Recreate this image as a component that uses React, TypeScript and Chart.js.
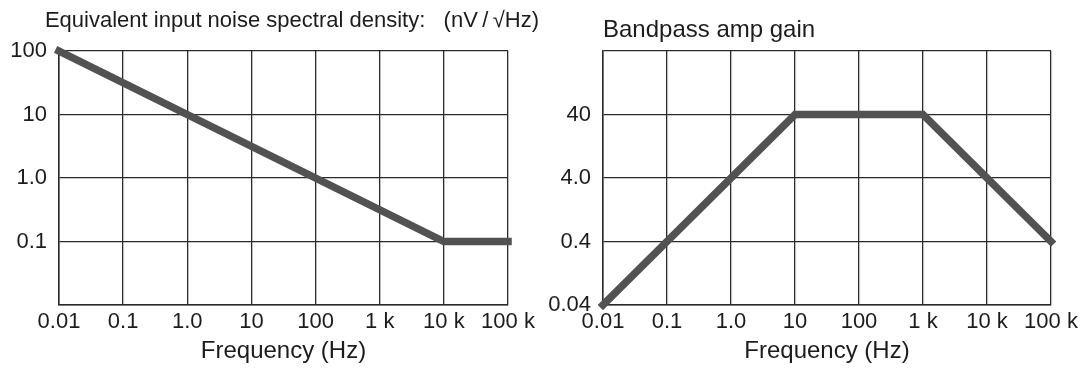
import React, { useEffect, useRef } from 'react';
import { Chart, registerables } from 'chart.js';

Chart.register(...registerables);

// ---- data ----
const FREQ_TICKS = [0.01, 0.1, 1, 10, 100, 1000, 10000, 100000];
const FREQ_LABELS = ['0.01', '0.1', '1.0', '10', '100', '1 k', '10 k', '100 k'];

const NOISE_FREQ = [0.01, 10000, 100000];
const NOISE_VALUES = [100, 0.1, 0.1];
const NOISE_TICKS = [0.01, 0.1, 1, 10, 100];
const NOISE_LABELS = ['', '0.1', '1.0', '10', '100'];

const GAIN_FREQ = [0.01, 10, 1000, 100000];
const GAIN_VALUES = [0.04, 40, 40, 0.4];
const GAIN_TICKS = [0.04, 0.4, 4, 40, 400];
const GAIN_LABELS = ['0.04', '0.4', '4.0', '40', ''];

const NOISE_TITLE = 'Equivalent input noise spectral density:   (nV\u2009/\u2009\u221AHz)';
const GAIN_TITLE = 'Bandpass amp gain';
const X_TITLE = 'Frequency (Hz)';

const FONT = '"Liberation Sans", Arial, Helvetica, sans-serif';
const TEXT = '#1c1c1c';
const GRID = '#2a2a2a';
const LINE = '#525252';

type Params = {
  xs: number[];
  ys: number[];
  yTicks: number[];
  yLabels: string[];
  title: string;
  titleSize: number;
  titleAlign: string;
  titleFull: boolean;
  titlePad: { top: number; bottom: number };
  padRight: number;
  yWidth: number;
  rightPad: number;
};

function measure(text: string, size: number): number {
  const c = document.createElement('canvas');
  const ctx = c.getContext('2d');
  if (!ctx) return text.length * size * 0.5;
  ctx.font = `normal ${size}px ${FONT}`;
  return ctx.measureText(text).width;
}

function makeConfig(p: Params): any {
  const font = { family: FONT, size: 22 };
  const scales: any = {
    x: {
      type: 'logarithmic',
      min: FREQ_TICKS[0],
      max: FREQ_TICKS[FREQ_TICKS.length - 1],
      afterBuildTicks: (s: any) => {
        s.ticks = FREQ_TICKS.map((v) => ({ value: v }));
      },
      afterFit: (s: any) => {
        s.height = 68;
      },
      grid: { color: GRID, lineWidth: 1.3, drawTicks: false },
      border: { color: GRID, width: 1.5 },
      ticks: {
        autoSkip: false,
        maxRotation: 0,
        padding: 4,
        color: TEXT,
        font,
        callback: (_v: any, i: number) => FREQ_LABELS[i],
      },
      title: {
        display: true,
        text: X_TITLE,
        color: TEXT,
        font: { family: FONT, size: 24 },
        padding: { top: 0, bottom: 7 },
      },
    },
    y: {
      type: 'logarithmic',
      min: p.yTicks[0],
      max: p.yTicks[p.yTicks.length - 1],
      afterBuildTicks: (s: any) => {
        s.ticks = p.yTicks.map((v) => ({ value: v }));
      },
      afterFit: (s: any) => {
        s.width = p.yWidth;
      },
      grid: { color: GRID, lineWidth: 1.3, drawTicks: false },
      border: { color: GRID, width: 1.5 },
      ticks: {
        autoSkip: false,
        padding: 12,
        color: TEXT,
        font,
        callback: (_v: any, i: number) => p.yLabels[i],
      },
    },
  };
  if (p.rightPad > 0) {
    scales.pad = {
      type: 'linear',
      position: 'right',
      display: true,
      grid: { display: false, drawTicks: false },
      border: { display: false },
      ticks: { display: false },
      afterFit: (s: any) => {
        s.width = p.rightPad;
      },
    };
  }
  return {
    type: 'line',
    data: {
      datasets: [
        {
          data: p.xs.map((x, i) => ({ x, y: p.ys[i] })),
          borderColor: LINE,
          borderWidth: 7.5,
          borderCapStyle: 'square',
          borderJoinStyle: 'miter',
          pointRadius: 0,
          tension: 0,
          fill: false,
          clip: false,
        },
      ],
    },
    options: {
      animation: false,
      responsive: false,
      maintainAspectRatio: false,
      layout: { padding: { left: 0, right: p.padRight, top: 0, bottom: 0 } },
      plugins: {
        legend: { display: false },
        tooltip: { enabled: false },
        title: {
          display: true,
          text: p.title,
          align: p.titleAlign,
          fullSize: p.titleFull,
          color: TEXT,
          font: { family: FONT, size: p.titleSize, weight: 'normal' },
          padding: p.titlePad,
        },
      },
      scales,
    },
  };
}

function ChartCanvas({ params, left, width }: { params: Params; left: number; width: number }) {
  const ref = useRef<HTMLCanvasElement | null>(null);
  useEffect(() => {
    if (!ref.current) return;
    const chart = new Chart(ref.current, makeConfig(params));
    return () => chart.destroy();
  }, []);
  return (
    <canvas
      ref={ref}
      width={width}
      height={373}
      style={{ position: 'absolute', left, top: 0, width, height: 373 }}
    />
  );
}

export default function App() {
  // left canvas: title centred in a canvas whose width puts the text start at x = 45
  const titleW = measure(NOISE_TITLE, 22);
  const leftW = Math.max(545, Math.round(90 + titleW));
  const noise: Params = {
    xs: NOISE_FREQ,
    ys: NOISE_VALUES,
    yTicks: NOISE_TICKS,
    yLabels: NOISE_LABELS,
    title: NOISE_TITLE,
    titleSize: 22,
    titleAlign: 'center',
    titleFull: true,
    titlePad: { top: 7.8, bottom: 16.8 },
    padRight: 0,
    yWidth: 59,
    rightPad: leftW - 508,
  };
  const gain: Params = {
    xs: GAIN_FREQ,
    ys: GAIN_VALUES,
    yTicks: GAIN_TICKS,
    yLabels: GAIN_LABELS,
    title: GAIN_TITLE,
    titleSize: 24,
    titleAlign: 'start',
    titleFull: false,
    titlePad: { top: 16.2, bottom: 6 },
    padRight: 40,
    yWidth: 58,
    rightPad: 0,
  };
  return (
    <div
      style={{
        position: 'fixed',
        left: 0,
        top: 0,
        width: 1091,
        height: 373,
        background: '#ffffff',
        overflow: 'hidden',
      }}
    >
      <ChartCanvas params={noise} left={0} width={leftW} />
      <ChartCanvas params={gain} left={545} width={546} />
    </div>
  );
}
